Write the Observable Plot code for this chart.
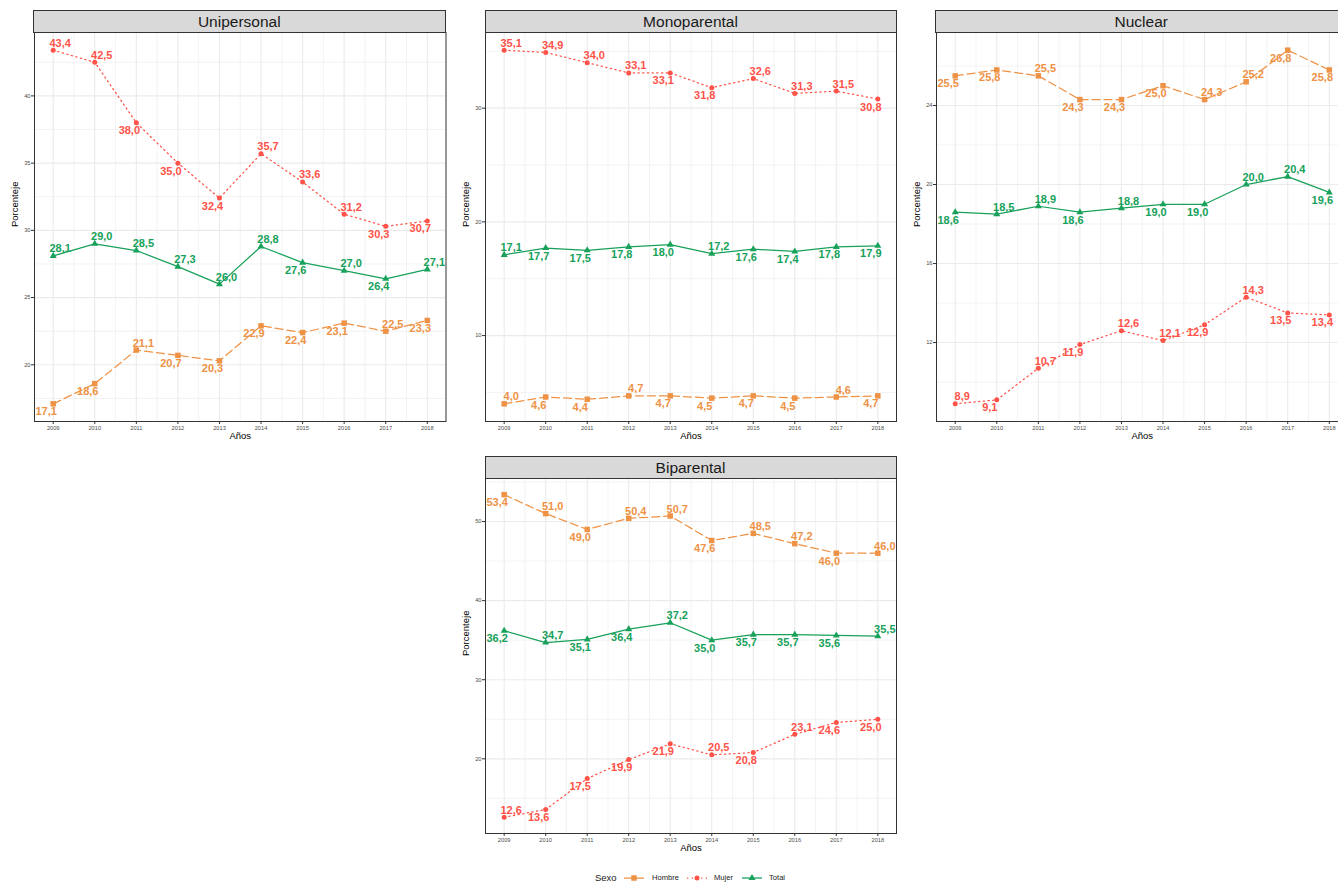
<!DOCTYPE html>
<html>
<head>
<meta charset="utf-8">
<script src="https://cdn.jsdelivr.net/npm/d3@7"></script>
<script src="https://cdn.jsdelivr.net/npm/@observablehq/plot@0.6"></script>
<style>
  html, body { margin: 0; padding: 0; background: #fff; }
  body { font-family: "Liberation Sans", Arial, Helvetica, sans-serif; }
  #root { position: relative; width: 1338px; height: 885px; overflow: hidden; }
  .strip { position: absolute; background: #D9D9D9; border: 1px solid #333; box-sizing: border-box;
           text-align: center; font-size: 15.5px; color: #1A1A1A; }
  .plotwrap { position: absolute; }
  .plotwrap svg { max-width: none !important; }
  .lg { position: absolute; color: #1A1A1A; white-space: nowrap; }
</style>
</head>
<body>
<div id="root"></div>
<script>
// ---------- DATA ----------
const years = [2009, 2010, 2011, 2012, 2013, 2014, 2015, 2016, 2017, 2018];
const sexos = ["Hombre", "Mujer", "Total"];

// Unipersonal
const uniHombre = [17.1, 18.6, 21.1, 20.7, 20.3, 22.9, 22.4, 23.1, 22.5, 23.3];
const uniMujer  = [43.4, 42.5, 38.0, 35.0, 32.4, 35.7, 33.6, 31.2, 30.3, 30.7];
const uniTotal  = [28.1, 29.0, 28.5, 27.3, 26.0, 28.8, 27.6, 27.0, 26.4, 27.1];
const uniTicks  = [20, 25, 30, 35, 40];

// Monoparental
const monoHombre = [4.0, 4.6, 4.4, 4.7, 4.7, 4.5, 4.7, 4.5, 4.6, 4.7];
const monoMujer  = [35.1, 34.9, 34.0, 33.1, 33.1, 31.8, 32.6, 31.3, 31.5, 30.8];
const monoTotal  = [17.1, 17.7, 17.5, 17.8, 18.0, 17.2, 17.6, 17.4, 17.8, 17.9];
const monoTicks  = [10, 20, 30];

// Nuclear
const nucHombre = [25.5, 25.8, 25.5, 24.3, 24.3, 25.0, 24.3, 25.2, 26.8, 25.8];
const nucMujer  = [8.9, 9.1, 10.7, 11.9, 12.6, 12.1, 12.9, 14.3, 13.5, 13.4];
const nucTotal  = [18.6, 18.5, 18.9, 18.6, 18.8, 19.0, 19.0, 20.0, 20.4, 19.6];
const nucTicks  = [12, 16, 20, 24];

// Biparental
const biHombre = [53.4, 51.0, 49.0, 50.4, 50.7, 47.6, 48.5, 47.2, 46.0, 46.0];
const biMujer  = [12.6, 13.6, 17.5, 19.9, 21.9, 20.5, 20.8, 23.1, 24.6, 25.0];
const biTotal  = [36.2, 34.7, 35.1, 36.4, 37.2, 35.0, 35.7, 35.7, 35.6, 35.5];
const biTicks  = [20, 30, 40, 50];

// label side per point: u = above-right, d = below-left
const uniSides  = { Hombre: ["d","d","u","d","d","d","d","d","u","d"],
                    Mujer:  ["u","u","d","d","d","u","u","u","d","d"],
                    Total:  ["u","u","u","u","u","u","d","u","d","u"] };
const monoSides = { Hombre: ["u","d","d","u","d","d","d","d","u","d"],
                    Mujer:  ["u","u","u","u","d","d","u","u","u","d"],
                    Total:  ["u","d","d","d","d","u","d","d","d","d"] };
const nucSides  = { Hombre: ["d","d","u","d","d","d","u","u","d","d"],
                    Mujer:  ["u","d","u","d","u","u","d","u","d","d"],
                    Total:  ["d","u","u","d","u","d","d","u","u","d"] };
const biSides   = { Hombre: ["d","u","d","u","u","d","u","u","d","u"],
                    Mujer:  ["u","d","d","d","d","u","d","u","d","d"],
                    Total:  ["d","u","d","d","u","d","d","d","d","u"] };

// ---------- STYLE ----------
const colors = { Hombre: "#EE9246", Mujer: "#FF5349", Total: "#17A15A" };
const dashes = { Hombre: "8,4", Mujer: "1.3,3.4", Total: null };
const symbols = { Hombre: "square", Mujer: "circle", Total: "triangle" };
const radii = { Hombre: 3.1, Mujer: 2.5, Total: 2.6 };

const fmt = v => d3.format(".1f")(v).replace(".", ",");
const root = document.getElementById("root");

function panel(title, left, top, width, height, series, sides, yTicks) {
  const rows = [];
  for (const s of sexos) {
    series[s].forEach((v, i) => rows.push({ year: years[i], value: v, sexo: s, side: sides[s][i] }));
  }
  const vals = rows.map(d => d.value);
  const lo = d3.min(vals), hi = d3.max(vals), r = hi - lo;
  const yDomain = [lo - 0.05 * r, hi + 0.05 * r];
  const xr = years[years.length - 1] - years[0];
  const xDomain = [years[0] - 0.05 * xr, years[years.length - 1] + 0.05 * xr];
  const step = yTicks[1] - yTicks[0];
  const yMinor = [yTicks[0] - step / 2, ...yTicks.map(t => t + step / 2)]
    .filter(v => v > yDomain[0] && v < yDomain[1]);
  const xMinor = years.slice(0, -1).map(y => y + 0.5);

  const mL = 40, mR = 2, mT = 1, mB = 30;
  const marks = [
    Plot.ruleX(xMinor, { stroke: "#EBEBEB", strokeWidth: 0.6 }),
    Plot.ruleY(yMinor, { stroke: "#EBEBEB", strokeWidth: 0.6 }),
    Plot.ruleX(years, { stroke: "#EBEBEB", strokeWidth: 1.1 }),
    Plot.ruleY(yTicks, { stroke: "#EBEBEB", strokeWidth: 1.1 }),
    Plot.axisX({ ticks: years, tickFormat: d => String(d), tickSize: 3, tickPadding: 1.5,
                 fontSize: 5.7, fill: "#4D4D4D", stroke: "#333", label: null }),
    Plot.axisY({ ticks: yTicks, tickFormat: d => String(d), tickSize: 3, tickPadding: 1,
                 fontSize: 5.7, fill: "#4D4D4D", stroke: "#333", label: null }),
    Plot.text(["Porcenteje"], { frameAnchor: "left", dx: -19.5, rotate: -90, fontSize: 9.5, fill: "#000" }),
    Plot.text(["Años"], { frameAnchor: "bottom", dy: 17, fontSize: 9.5, fill: "#000" })
  ];
  for (const s of sexos) {
    const d = rows.filter(r => r.sexo === s);
    marks.push(Plot.line(d, { x: "year", y: "value", stroke: colors[s], strokeWidth: 1.25,
      strokeDasharray: dashes[s] || undefined }));
  }
  for (const s of sexos) {
    const d = rows.filter(r => r.sexo === s);
    marks.push(Plot.dot(d, { x: "year", y: "value", symbol: symbols[s], r: radii[s], fill: colors[s], stroke: "none" }));
  }
  for (const s of sexos) {
    const up = rows.filter(r => r.sexo === s && r.side === "u");
    const dn = rows.filter(r => r.sexo === s && r.side === "d");
    const common = { x: "year", y: "value", text: d => fmt(d.value), fill: colors[s],
                     fontWeight: "bold", fontSize: 11 };
    marks.push(Plot.text(up, { ...common, dx: 7, dy: -7 }));
    marks.push(Plot.text(dn, { ...common, dx: -7, dy: 8 }));
  }
  marks.push(Plot.frame({ stroke: "#333", strokeWidth: 1 }));

  const W = width + mL + mR, H = height + mT + mB;
  const svg = Plot.plot({
    width: W, height: H,
    marginLeft: mL, marginRight: mR, marginTop: mT, marginBottom: mB,
    x: { domain: xDomain },
    y: { domain: yDomain },
    style: { fontFamily: "'Liberation Sans', Arial, Helvetica, sans-serif", background: "transparent",
             overflow: "visible", maxWidth: "none" },
    marks
  });
  const wrap = document.createElement("div");
  wrap.className = "plotwrap";
  wrap.style.left = (left - mL) + "px";
  wrap.style.top = (top - mT) + "px";
  wrap.style.width = W + "px";
  wrap.style.height = H + "px";
  wrap.appendChild(svg);
  root.appendChild(wrap);

  const strip = document.createElement("div");
  strip.className = "strip";
  const sh = 22;
  strip.style.left = (left - 0.5) + "px";
  strip.style.top = (top - sh) + "px";
  strip.style.width = (width + 1) + "px";
  strip.style.height = (sh + 0.5) + "px";
  strip.style.lineHeight = (sh - 1) + "px";
  strip.textContent = title;
  root.appendChild(strip);
}

panel("Unipersonal", 33.5, 32, 411.5, 389, { Hombre: uniHombre, Mujer: uniMujer, Total: uniTotal }, uniSides, uniTicks);
panel("Monoparental", 485, 32, 411, 389, { Hombre: monoHombre, Mujer: monoMujer, Total: monoTotal }, monoSides, monoTicks);
panel("Nuclear", 935.5, 32, 411.5, 389, { Hombre: nucHombre, Mujer: nucMujer, Total: nucTotal }, nucSides, nucTicks);
panel("Biparental", 485, 478.3, 411, 355, { Hombre: biHombre, Mujer: biMujer, Total: biTotal }, biSides, biTicks);

// ---------- LEGEND ----------
function addText(txt, x, size) {
  const el = document.createElement("div");
  el.className = "lg";
  el.style.left = x + "px";
  el.style.top = (878 - size * 0.6) + "px";
  el.style.fontSize = size + "px";
  el.style.lineHeight = (size * 1.2) + "px";
  el.textContent = txt;
  root.appendChild(el);
}
function addKey(s, x) {
  const ns = "http://www.w3.org/2000/svg";
  const svg = document.createElementNS(ns, "svg");
  svg.setAttribute("width", 20); svg.setAttribute("height", 10);
  svg.style.position = "absolute"; svg.style.left = x + "px"; svg.style.top = "873px";
  const ln = document.createElementNS(ns, "line");
  ln.setAttribute("x1", 0); ln.setAttribute("x2", 20); ln.setAttribute("y1", 5); ln.setAttribute("y2", 5);
  ln.setAttribute("stroke", colors[s]); ln.setAttribute("stroke-width", 1.25);
  if (dashes[s]) ln.setAttribute("stroke-dasharray", dashes[s]);
  svg.appendChild(ln);
  const sym = d3.symbol(s === "Hombre" ? d3.symbolSquare : s === "Mujer" ? d3.symbolCircle : d3.symbolTriangle,
                        Math.PI * radii[s] * radii[s]);
  const p = document.createElementNS(ns, "path");
  p.setAttribute("d", sym()); p.setAttribute("transform", "translate(10,5)"); p.setAttribute("fill", colors[s]);
  svg.appendChild(p);
  root.appendChild(svg);
}
addText("Sexo", 595, 9.5);
addKey("Hombre", 624); addText("Hombre", 652, 7.6);
addKey("Mujer", 687);  addText("Mujer", 714, 7.6);
addKey("Total", 742);  addText("Total", 769, 7.6);
</script>
</body>
</html>
